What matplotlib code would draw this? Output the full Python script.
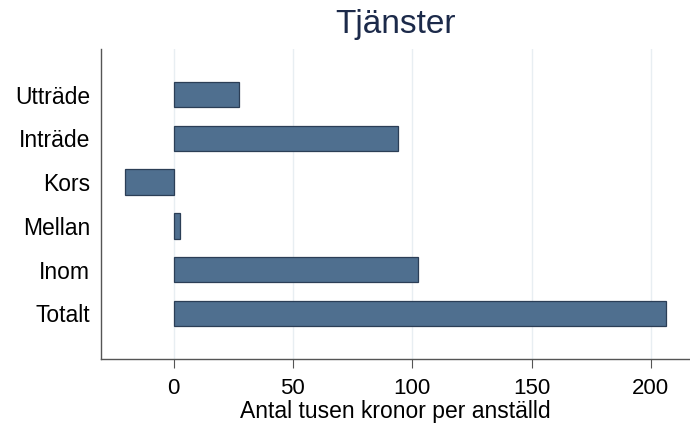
import matplotlib.pyplot as plt

categories = ["Utträde", "Inträde", "Kors", "Mellan", "Inom", "Totalt"]
values = [27.3, 94.1, -20.2, 2.9, 102.5, 206.4]
xticks = [0, 50, 100, 150, 200]

plt.rcParams['font.family'] = ['Liberation Sans', 'DejaVu Sans']

fig = plt.figure(figsize=(6.9, 4.32), dpi=100)
ax = fig.add_axes([0.1464, 0.169, 0.8536, 0.717])

ypos = list(range(len(categories)))[::-1]
ax.barh(ypos, values, height=0.58, color="#4f6f8f", edgecolor="#2b3e56",
        linewidth=0.9, zorder=3)

ax.set_xlim(-30.4, 216.4)
ax.set_ylim(-1.046, 6.04)
ax.set_xticks(xticks)
ax.set_yticks(ypos)
ax.set_yticklabels(categories)
ax.xaxis.grid(True, color="#e8eef2", linewidth=1.0, zorder=0)

for side in ["top", "right"]:
    ax.spines[side].set_visible(False)
for side in ["left", "bottom"]:
    ax.spines[side].set_color("#555555")
    ax.spines[side].set_linewidth(1.0)

ax.tick_params(axis="x", length=6.5, width=0.8, color="#555555", labelsize=16,
               pad=7)
ax.tick_params(axis="y", length=0, labelsize=16.5, pad=8)
ax.set_xlabel("Antal tusen kronor per anställd", fontsize=16.5, labelpad=1)

fig.text(0.573, 0.943, "Tjänster", fontsize=24, color="#1c2a4a",
         ha="center", va="center")

fig.savefig("out.png", dpi=100)
